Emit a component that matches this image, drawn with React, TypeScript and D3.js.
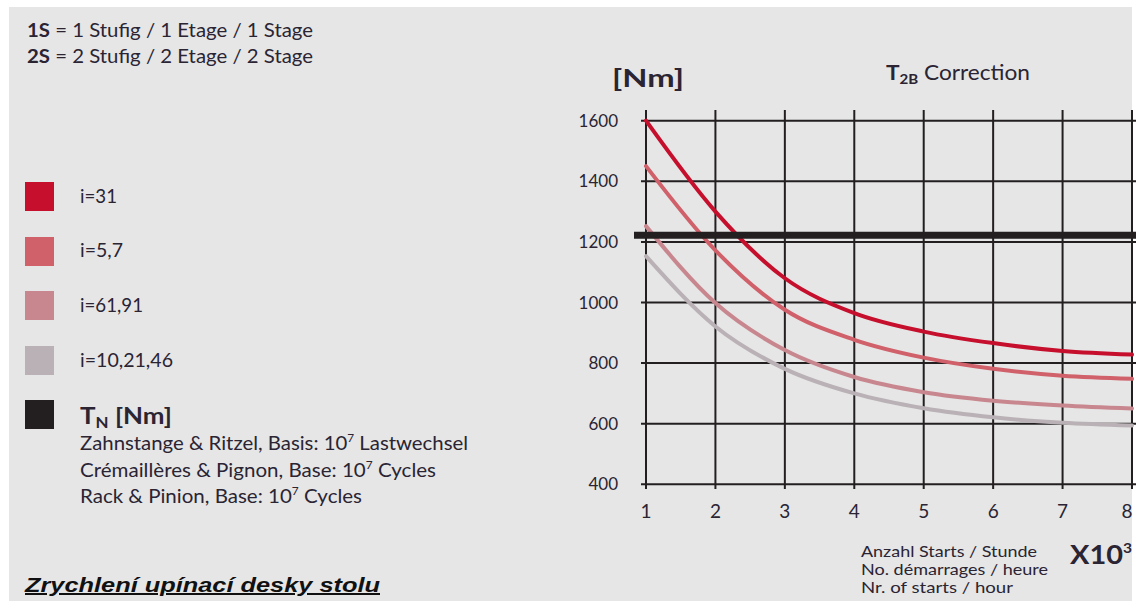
import React from "react";
import * as d3 from "d3";

const xValues = [1, 2, 3, 4, 5, 6, 7, 8];
const seriesNames = ["i=31", "i=5,7", "i=61,91", "i=10,21,46"];
const i31 = [1600, 1300, 1080, 965, 904, 866, 840, 828];
const i57 = [1450, 1172, 976, 877, 818, 781, 758, 748];
const i6191 = [1252, 998, 843, 754, 704, 676, 660, 650];
const i102146 = [1153, 921, 781, 700, 651, 621, 603, 594];
const tN = 1222;
const yTicks = [400, 600, 800, 1000, 1200, 1400, 1600];
const xTicks = [1, 2, 3, 4, 5, 6, 7, 8];
const colors = ["#c50f2c", "#d0606a", "#c8878e", "#b9b1b5"];
const seriesList = [i31, i57, i6191, i102146];

const W = 1136;
const H = 601;
const FONT = "Lato, 'Open Sans', sans-serif";
const TXT = "#2a2433";

export default function App() {
  const x = d3.scaleLinear().domain([1, 8]).range([646, 1132]);
  const y = d3.scaleLinear().domain([400, 1600]).range([484.3, 120.7]);
  const line = d3
    .line<number>()
    .x((_, i) => x(xValues[i]))
    .y((d) => y(d))
    .curve(d3.curveMonotoneX);

  const legendY = [182, 237, 291, 346];
  const legendBase = [203, 257, 312, 367];
  const legendLen = [37, 43, 63, 93];

  return (
    <svg width={W} height={H} style={{ position: "absolute", left: 0, top: 0 }}>
      <rect x={0} y={0} width={W} height={H} fill="#ffffff" />
      <rect x={9} y={7} width={1123} height={H - 7} fill="#e6e6e6" />

      {/* top-left notes */}
      <text x={27} y={37} fontFamily={FONT} fontSize={19} fill={TXT} textLength={286} lengthAdjust="spacingAndGlyphs">
        <tspan fontWeight="bold">1S</tspan> = 1 Stufig / 1 Etage / 1 Stage
      </text>
      <text x={27} y={63} fontFamily={FONT} fontSize={19} fill={TXT} textLength={286} lengthAdjust="spacingAndGlyphs">
        <tspan fontWeight="bold">2S</tspan> = 2 Stufig / 2 Etage / 2 Stage
      </text>

      {/* legend */}
      {seriesNames.map((n, i) => (
        <g key={n}>
          <rect x={25} y={legendY[i]} width={29} height={29} fill={colors[i]} />
          <text x={80} y={legendBase[i]} fontFamily={FONT} fontSize={19} fill={TXT} textLength={legendLen[i]} lengthAdjust="spacingAndGlyphs">
            {n}
          </text>
        </g>
      ))}
      <rect x={25} y={400} width={29} height={29} fill="#231f20" />
      <text x={80} y={424} fontFamily={FONT} fontSize={23} fontWeight="bold" fill={TXT} textLength={92} lengthAdjust="spacingAndGlyphs">
        T<tspan fontSize={15} dy={4}>N</tspan>
        <tspan dy={-4}> [Nm]</tspan>
      </text>
      <text x={80} y={450} fontFamily={FONT} fontSize={19} fill={TXT} textLength={388} lengthAdjust="spacingAndGlyphs">
        Zahnstange &amp; Ritzel, Basis: 10<tspan fontSize={11} dy={-8}>7</tspan>
        <tspan dy={8}> Lastwechsel</tspan>
      </text>
      <text x={80} y={477} fontFamily={FONT} fontSize={19} fill={TXT} textLength={356} lengthAdjust="spacingAndGlyphs">
        Crémaillères &amp; Pignon, Base: 10<tspan fontSize={11} dy={-8}>7</tspan>
        <tspan dy={8}> Cycles</tspan>
      </text>
      <text x={80} y={503} fontFamily={FONT} fontSize={19} fill={TXT} textLength={282} lengthAdjust="spacingAndGlyphs">
        Rack &amp; Pinion, Base: 10<tspan fontSize={11} dy={-8}>7</tspan>
        <tspan dy={8}> Cycles</tspan>
      </text>

      {/* chart titles */}
      <text x={612} y={87} fontFamily={FONT} fontSize={25} fontWeight="bold" fill={TXT} textLength={72} lengthAdjust="spacingAndGlyphs">
        [Nm]
      </text>
      <text x={886} y={80} fontFamily={FONT} fontSize={21} fill={TXT} textLength={144} lengthAdjust="spacingAndGlyphs">
        <tspan fontWeight="bold">T</tspan>
        <tspan fontWeight="bold" fontSize={14} dy={4}>2B</tspan>
        <tspan dy={-4}> Correction</tspan>
      </text>

      {/* grid */}
      {yTicks.map((t) => (
        <line key={"h" + t} x1={641} x2={W} y1={y(t)} y2={y(t)} stroke="#231f20" strokeWidth={2} />
      ))}
      {xTicks.map((t) => (
        <line key={"v" + t} x1={x(t)} x2={x(t)} y1={110} y2={489} stroke="#231f20" strokeWidth={2} />
      ))}

      {/* curves */}
      {seriesList.map((s, i) => (
        <path key={"c" + i} d={line(s) || ""} fill="none" stroke={colors[i]} strokeWidth={4} strokeLinecap="round" />
      ))}

      {/* T_N line */}
      <line x1={634} x2={W} y1={y(tN)} y2={y(tN)} stroke="#231f20" strokeWidth={7} />

      {/* y tick labels */}
      {yTicks.map((t) => (
        <text key={"yl" + t} x={618} y={y(t) + 6} textAnchor="end" fontFamily={FONT} fontSize={17} fill={TXT}>
          {t}
        </text>
      ))}
      {/* x tick labels */}
      {xTicks.map((t) => (
        <text key={"xl" + t} x={Math.min(x(t), 1127)} y={518} textAnchor="middle" fontFamily={FONT} fontSize={19} fill={TXT}>
          {t}
        </text>
      ))}

      {/* x axis caption */}
      <text x={861} y={557} fontFamily={FONT} fontSize={16} fill={TXT} textLength={176} lengthAdjust="spacingAndGlyphs">
        Anzahl Starts / Stunde
      </text>
      <text x={861} y={575} fontFamily={FONT} fontSize={16} fill={TXT} textLength={187} lengthAdjust="spacingAndGlyphs">
        No. démarrages / heure
      </text>
      <text x={861} y={593} fontFamily={FONT} fontSize={16} fill={TXT} textLength={152} lengthAdjust="spacingAndGlyphs">
        Nr. of starts / hour
      </text>
      <text x={1070} y={564} fontFamily={FONT} fontSize={26} fontWeight="bold" fill={TXT} textLength={62} lengthAdjust="spacingAndGlyphs">
        X10<tspan fontSize={14} dy={-11}>3</tspan>
      </text>

      {/* bottom title */}
      <text x={25} y={592} fontFamily="'Liberation Sans', Arial, sans-serif" fontSize={20} fontWeight="bold" fontStyle="italic" fill="#111" textDecoration="underline" textLength={355} lengthAdjust="spacingAndGlyphs">
        Zrychlení upínací desky stolu
      </text>
    </svg>
  );
}
